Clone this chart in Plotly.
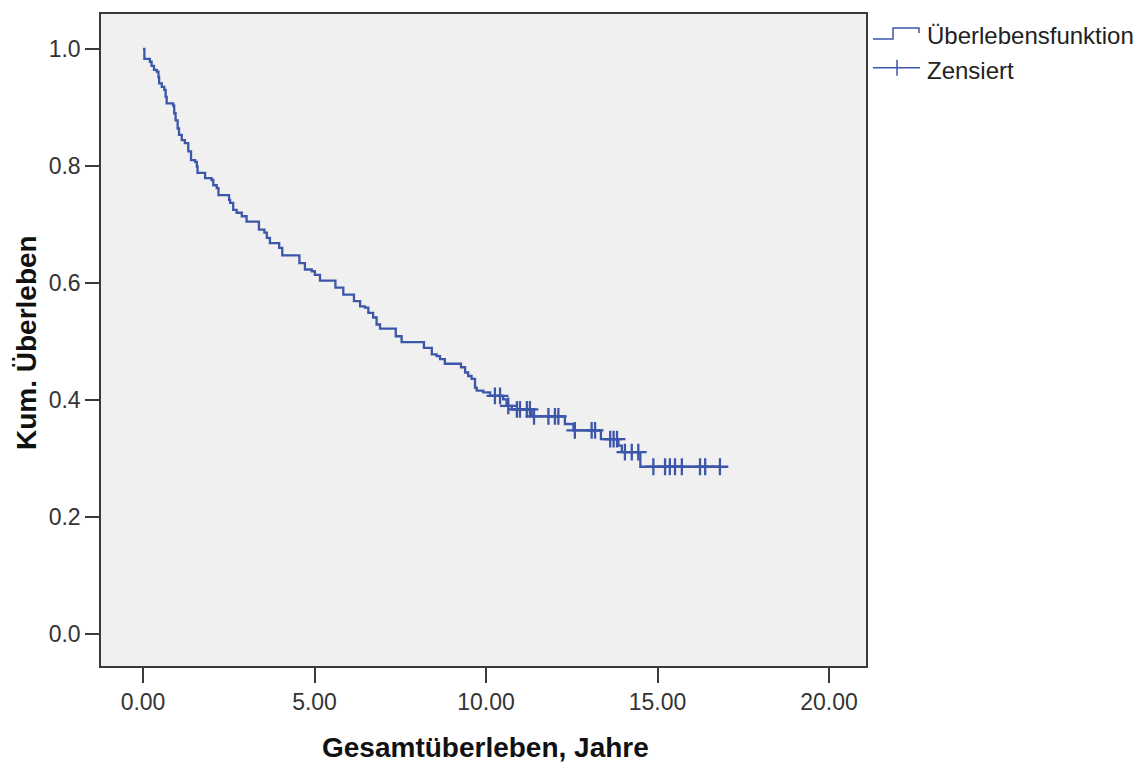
import numpy as np
import plotly.graph_objects as go

# Kaplan-Meier estimate: event times (years) and survival right after each event
event_times = [
    0.04, 0.20, 0.25, 0.32, 0.40, 0.45, 0.47, 0.55, 0.62, 0.66, 0.69, 0.88,
    0.91, 0.95, 1.01, 1.05, 1.13, 1.22, 1.32, 1.40, 1.52, 1.57, 1.59, 1.81,
    2.00, 2.05, 2.15, 2.20, 2.51, 2.54, 2.63, 2.73, 2.88, 3.02, 3.38, 3.54,
    3.61, 3.70, 3.97, 4.06, 4.56, 4.72, 4.92, 5.01, 5.16, 5.61, 5.84, 6.15,
    6.33, 6.47, 6.57, 6.71, 6.81, 6.91, 7.37, 7.54, 8.19, 8.42, 8.56, 8.66,
    8.80, 9.27, 9.39, 9.48, 9.58, 9.68, 9.73, 9.92, 10.12, 10.50, 10.60, 10.75,
    11.33, 12.30, 12.55, 13.35, 13.86, 13.96, 14.50,
]
survival = [
    0.983, 0.978, 0.971, 0.964, 0.961, 0.952, 0.941, 0.935, 0.930, 0.918, 0.907, 0.903,
    0.890, 0.878, 0.864, 0.853, 0.844, 0.839, 0.825, 0.810, 0.807, 0.799, 0.788, 0.779,
    0.776, 0.767, 0.762, 0.750, 0.742, 0.737, 0.725, 0.720, 0.714, 0.705, 0.691, 0.686,
    0.677, 0.668, 0.660, 0.647, 0.634, 0.623, 0.620, 0.614, 0.604, 0.592, 0.580, 0.569,
    0.560, 0.558, 0.549, 0.541, 0.529, 0.522, 0.509, 0.499, 0.489, 0.478, 0.475, 0.470,
    0.462, 0.456, 0.447, 0.441, 0.436, 0.421, 0.416, 0.413, 0.407, 0.401, 0.390, 0.384,
    0.372, 0.359, 0.348, 0.333, 0.322, 0.311, 0.286,
]
# Censored observations (years)
censor_times = [
    10.26, 10.41, 10.65, 10.90, 10.99, 11.19, 11.28, 11.40, 11.82, 12.01, 12.11,
    12.59, 13.08, 13.18, 13.62, 13.72, 13.82, 14.05, 14.25, 14.44, 14.88, 15.22,
    15.36, 15.51, 15.71, 16.24, 16.39, 16.82,
]

x_ticks = [0, 5, 10, 15, 20]
x_tick_labels = ["0.00", "5.00", "10.00", "15.00", "20.00"]
y_ticks = [0.0, 0.2, 0.4, 0.6, 0.8, 1.0]
y_tick_labels = ["0.0", "0.2", "0.4", "0.6", "0.8", "1.0"]

BLUE = "rgb(60,86,170)"
FRAME = "#3a3a3a"
W, H = 1142, 763
L, R, T, B = 101, 866, 12, 666  # plot frame in pixels


def px(xp):
    return (xp - L) / (R - L)


def py(yp):
    return (B - yp) / (B - T)


ev_t = np.asarray(event_times)
ev_s = np.asarray(survival)
c_t = np.asarray(censor_times)

# step line from time 0 to the last observation
line_x = np.concatenate([[0.0], ev_t, [c_t.max()]])
line_y = np.concatenate([[1.0], ev_s, [ev_s[-1]]])

# survival level at each censoring time
idx = np.searchsorted(ev_t, c_t, side="right") - 1
c_s = np.where(idx >= 0, ev_s[np.clip(idx, 0, None)], 1.0)

fig = go.Figure()
fig.add_trace(go.Scatter(
    x=line_x, y=line_y, mode="lines", line=dict(color=BLUE, width=2.3, shape="hv"),
    showlegend=False, hoverinfo="skip",
))
fig.add_trace(go.Scatter(
    x=c_t, y=c_s, mode="markers",
    marker=dict(symbol="cross-thin", size=12, line=dict(color=BLUE, width=2.3)),
    showlegend=False, hoverinfo="skip",
))

# legend drawn by hand: step icon and censor icon
shapes = [
    dict(type="path", xref="paper", yref="paper",
         path=(f"M {px(873)} {py(37)} L {px(893)} {py(37)} L {px(893)} {py(26)} "
               f"L {px(919)} {py(26)} L {px(919)} {py(31)}"),
         line=dict(color=BLUE, width=1.5)),
    dict(type="line", xref="paper", yref="paper",
         x0=px(873), x1=px(920), y0=py(66), y1=py(66),
         line=dict(color=BLUE, width=1.5)),
    dict(type="line", xref="paper", yref="paper",
         x0=px(897), x1=px(897), y0=py(58), y1=py(74),
         line=dict(color=BLUE, width=1.5)),
]

txt = dict(family="Liberation Sans, Arial, sans-serif", color="#222222")
annotations = [
    dict(text="Überlebensfunktion", x=px(925), y=py(34), xref="paper", yref="paper",
         xanchor="left", yanchor="middle", showarrow=False, font=dict(size=24, **txt)),
    dict(text="Zensiert", x=px(925), y=py(69), xref="paper", yref="paper",
         xanchor="left", yanchor="middle", showarrow=False, font=dict(size=24, **txt)),
    dict(text="<b>Gesamtüberleben, Jahre</b>", x=px(485), y=py(748), xref="paper",
         yref="paper", xanchor="center", yanchor="middle", showarrow=False,
         font=dict(size=28, family="Liberation Sans, Arial, sans-serif", color="#111111")),
    dict(text="<b>Kum. Überleben</b>", x=px(27), y=py(342), xref="paper", yref="paper",
         xanchor="center", yanchor="middle", textangle=-90, showarrow=False,
         font=dict(size=28, family="Liberation Sans, Arial, sans-serif", color="#111111")),
]

fig.update_layout(
    width=W, height=H, autosize=False,
    margin=dict(l=L, r=W - R, t=T, b=H - B, pad=0),
    paper_bgcolor="white", plot_bgcolor="#f0f0f0",
    shapes=shapes, annotations=annotations, showlegend=False,
)
fig.update_xaxes(
    range=[(L - 143) / 34.3, (R - 143) / 34.3],
    tickvals=x_ticks, ticktext=x_tick_labels,
    ticks="outside", ticklen=15, tickwidth=1.5, tickcolor=FRAME,
    showline=True, mirror=True, linecolor=FRAME, linewidth=1.5,
    showgrid=False, zeroline=False,
    tickfont=dict(size=23, family="Liberation Sans, Arial", color="#333333"),
)
fig.update_yaxes(
    range=[(634 - B) / 587, (634 - T) / 587],
    tickvals=y_ticks, ticktext=y_tick_labels,
    ticks="outside", ticklen=14, tickwidth=1.5, tickcolor=FRAME,
    showline=True, mirror=True, linecolor=FRAME, linewidth=1.5,
    showgrid=False, zeroline=False,
    tickfont=dict(size=23, family="Liberation Sans, Arial", color="#333333"),
)

fig.write_html("out.html")
